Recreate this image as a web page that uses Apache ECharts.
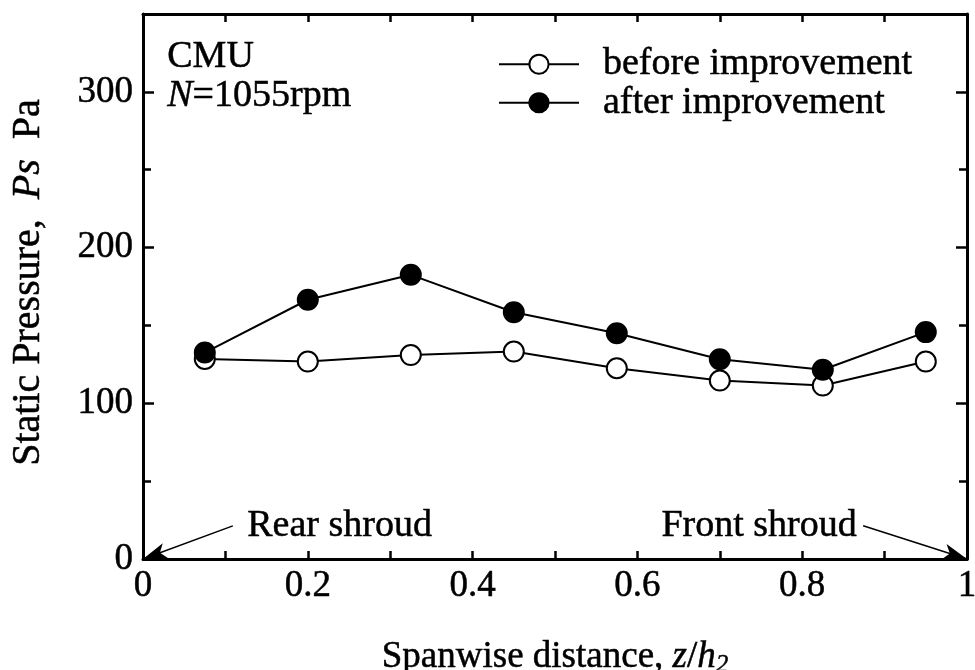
<!DOCTYPE html>
<html>
<head>
<meta charset="utf-8">
<script src="https://cdn.jsdelivr.net/npm/echarts@6/dist/echarts.min.js"></script>
<style>
  html, body { margin: 0; padding: 0; background: #fff; }
  #chart { width: 975px; height: 670px; }
</style>
</head>
<body>
<div id="chart"></div>
<script>
// Spanwise measurement stations (z/h2)
const spanPositions = [0.075, 0.2, 0.325, 0.45, 0.575, 0.7, 0.825, 0.95];
// Static pressure Ps [Pa]
const beforeImprovement = [128.5, 126.8, 131, 133.2, 122.5, 114.6, 111.4, 126.8];
const afterImprovement  = [132.6, 166.5, 182.5, 158.5, 145, 128.3, 121.5, 145.7];
const seriesNames = ['before improvement', 'after improvement'];

const FONT = "'Liberation Serif', 'Times New Roman', serif";
const INK = '#000';
const FS = 37;              // common text size
const HEAVY = 0.5;          // slight stroke so the serif face reads darker

const pairs = (xs, ys) => xs.map((x, i) => [x, ys[i]]);

const chart = echarts.init(document.getElementById('chart'), null, { renderer: 'canvas' });

const frameAxisX = {
  min: 0, max: 1, interval: 0.2,
  axisLine: { show: true, onZero: false, lineStyle: { color: INK, width: 3 } },
  axisTick: { show: true, inside: true, length: 8, lineStyle: { color: INK, width: 2.5 } },
  minorTick: { show: true, splitNumber: 2, length: 8, lineStyle: { color: INK, width: 2.5 } },
  splitLine: { show: false }
};
const frameAxisY = {
  min: 0, max: 350, interval: 100,
  axisLine: { show: true, onZero: false, lineStyle: { color: INK, width: 3 } },
  axisTick: { show: true, inside: true, length: 11, lineStyle: { color: INK, width: 2.5 } },
  minorTick: { show: true, splitNumber: 2, length: 8, lineStyle: { color: INK, width: 2.5 } },
  splitLine: { show: false }
};

const txt = extra => Object.assign({
  fontFamily: FONT, fontSize: FS, color: INK,
  textBorderColor: INK, textBorderWidth: HEAVY
}, extra || {});

const option = {
  backgroundColor: '#fff',
  animation: false,
  textStyle: { fontFamily: FONT, color: INK },
  grid: { left: 143, right: 8, top: 14, bottom: 111, containLabel: false, outerBoundsMode: 'none' },
  legend: {
    orient: 'vertical',
    left: 493, top: 40,
    itemWidth: 80, itemHeight: 24, itemGap: 0,
    data: seriesNames,
    textStyle: txt({ fontSize: 38, padding: [0, 0, 0, 19] })
  },
  xAxis: [
    Object.assign({}, frameAxisX, {
      type: 'value', position: 'bottom',
      axisLabel: Object.assign(txt(), {
        show: true, margin: 9,
        formatter: v => String(Math.round(v * 10) / 10)
      }),
      name: '{a|Spanwise distance, }{i|z}{a|/}{i|h}{s|2}',
      nameLocation: 'middle', nameGap: 78,
      nameTextStyle: {
        rich: {
          a: txt(),
          i: txt({ fontStyle: 'italic' }),
          s: txt({ fontSize: 25, fontStyle: 'italic', padding: [16, 0, 0, 0] })
        }
      }
    }),
    Object.assign({}, frameAxisX, { type: 'value', position: 'top', axisLabel: { show: false } })
  ],
  yAxis: [
    Object.assign({}, frameAxisY, {
      type: 'value', position: 'left',
      axisLabel: Object.assign(txt(), {
        show: true, margin: 10,
        formatter: v => (v % 100 === 0 ? String(v) : '')
      }),
      name: '{a|Static Pressure,  }{i|Ps}{a|  Pa}',
      nameLocation: 'middle', nameGap: 95,
      nameTextStyle: {
        padding: [0, 0, 0, 8],
        rich: {
          a: txt({ fontSize: 40 }),
          i: txt({ fontSize: 40, fontStyle: 'italic' })
        }
      }
    }),
    Object.assign({}, frameAxisY, { type: 'value', position: 'right', axisLabel: { show: false } })
  ],
  series: [
    {
      name: seriesNames[0], type: 'line',
      data: pairs(spanPositions, beforeImprovement),
      symbol: 'circle', symbolSize: 20,
      itemStyle: { color: '#fff', borderColor: INK, borderWidth: 2 },
      lineStyle: { color: INK, width: 2 },
      z: 2,
      markLine: {
        silent: true, symbol: ['none', 'arrow'], symbolSize: [12, 24],
        lineStyle: { color: INK, width: 1.5, type: 'solid' },
        label: { show: false },
        data: [
          [{ coord: [0.109, 21.3] }, { coord: [0, 0] }],
          [{ coord: [0.874, 21.3] }, { coord: [1, 0] }]
        ]
      }
    },
    {
      name: seriesNames[1], type: 'line',
      data: pairs(spanPositions, afterImprovement),
      symbol: 'circle', symbolSize: 20,
      itemStyle: { color: INK, borderColor: INK, borderWidth: 2 },
      lineStyle: { color: INK, width: 2 },
      z: 3
    }
  ],
  graphic: [
    {
      type: 'text', left: 167, top: 38,
      style: { text: 'CMU', font: `38px ${FONT}`, fill: INK, stroke: INK, lineWidth: HEAVY }
    },
    {
      type: 'text', left: 167, top: 77,
      style: {
        text: '{i|N}{a|=1055rpm}',
        rich: {
          i: { fontFamily: FONT, fontSize: 38, fontStyle: 'italic', fill: INK, stroke: INK, lineWidth: HEAVY },
          a: { fontFamily: FONT, fontSize: 38, fill: INK, stroke: INK, lineWidth: HEAVY }
        }
      }
    },
    {
      type: 'text', left: 247, top: 507,
      style: { text: 'Rear shroud', font: `38px ${FONT}`, fill: INK, stroke: INK, lineWidth: HEAVY }
    },
    {
      type: 'text', right: 118, top: 507,
      style: { text: 'Front shroud', font: `38px ${FONT}`, fill: INK, stroke: INK, lineWidth: HEAVY }
    }
  ]
};

chart.setOption(option);
</script>
</body>
</html>
